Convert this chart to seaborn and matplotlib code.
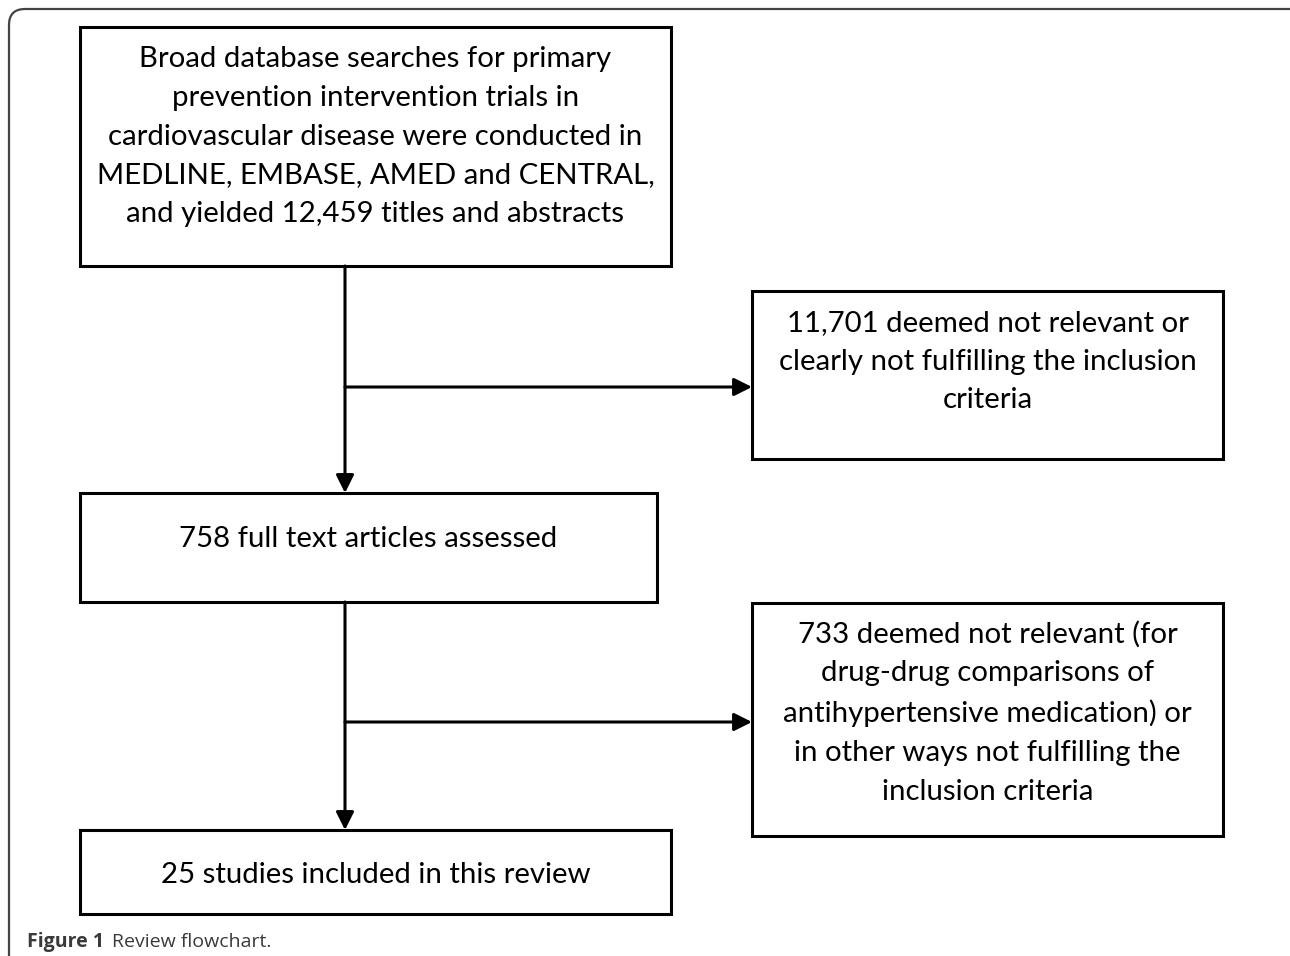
import matplotlib
matplotlib.use("Agg")
import matplotlib.pyplot as plt
import matplotlib.patches as mpatches
import seaborn as sns

# text of the flowchart boxes
box_labels = [
    "Broad database searches for primary\nprevention intervention trials in\ncardiovascular disease were conducted in\nMEDLINE, EMBASE, AMED and CENTRAL,\nand yielded 12,459 titles and abstracts",
    "11,701 deemed not relevant or\nclearly not fulfilling the inclusion\ncriteria",
    "758 full text articles assessed",
    "733 deemed not relevant (for\ndrug-drug comparisons of\nantihypertensive medication) or\nin other ways not fulfilling the\ninclusion criteria",
    "25 studies included in this review",
]
caption_bold = "Figure 1"
caption_text = "Review flowchart."

# layout in pixels: (left, top, right, bottom, y of first text line)
box_layout = [
    (80, 27, 671, 266, 57),
    (752, 291, 1223, 459, 321),
    (80, 493, 657, 602, 537),
    (752, 603, 1223, 836, 633),
    (80, 830, 671, 914, 873),
]
trunk_x = 345
branch_y = [387, 722]
line_gap = 38.8

sns.set_theme(style="white")
plt.rcParams["font.family"] = ["Lato", "DejaVu Sans"]

fig = plt.figure(figsize=(12.9, 9.56), dpi=100)
ax = fig.add_axes([0, 0, 1, 1])
ax.set_xlim(0, 1290)
ax.set_ylim(956, 0)
ax.axis("off")

# outer frame with rounded top-left corner
frame = mpatches.FancyBboxPatch((9, 9), 1320, 1000,
                                boxstyle="round,pad=0,rounding_size=16",
                                fill=False, edgecolor="#444444", lw=1.6)
ax.add_patch(frame)

for label, (l, t, r, b, ty) in zip(box_labels, box_layout):
    ax.add_patch(mpatches.Rectangle((l, t), r - l, b - t, fill=False,
                                    edgecolor="black", lw=2.2))
    n = label.count("\n") + 1
    ax.text((l + r) / 2, ty + (n - 1) * line_gap / 2 + 2, label,
            ha="center", va="center", fontsize=21.2, color="black",
            linespacing=1.60)

arrow = dict(arrowstyle="-|>,head_length=0.9,head_width=0.45",
             color="black", lw=2.2, shrinkA=0, shrinkB=0)

# trunk arrows
ax.annotate("", xy=(trunk_x, box_layout[2][1]), xytext=(trunk_x, box_layout[0][3]),
            arrowprops=arrow)
ax.annotate("", xy=(trunk_x, box_layout[4][1]), xytext=(trunk_x, box_layout[2][3]),
            arrowprops=arrow)
# side branches to exclusion boxes
ax.annotate("", xy=(box_layout[1][0], branch_y[0]), xytext=(trunk_x, branch_y[0]),
            arrowprops=arrow)
ax.annotate("", xy=(box_layout[3][0], branch_y[1]), xytext=(trunk_x, branch_y[1]),
            arrowprops=arrow)

# caption
cap_font = ["Open Sans", "DejaVu Sans"]
ax.text(27, 942, caption_bold, ha="left", va="center", fontsize=14,
        fontweight="bold", color="#3a3a3a", family=cap_font)
ax.text(112, 942, caption_text, ha="left", va="center", fontsize=14,
        color="#3a3a3a", family=cap_font)

fig.savefig("out.png", dpi=100)
